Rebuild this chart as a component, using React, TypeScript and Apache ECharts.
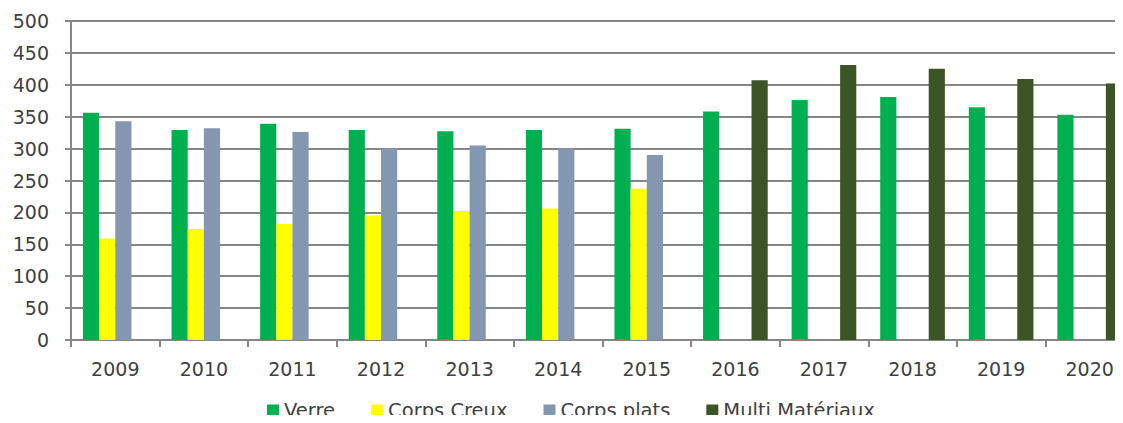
import React, { useEffect, useRef } from "react";
import * as echarts from "echarts";

const years = ["2009", "2010", "2011", "2012", "2013", "2014", "2015", "2016", "2017", "2018", "2019", "2020"];
const verre = [356, 329, 339, 329, 327, 329, 331, 358, 376, 381, 365, 353];
const corpsCreux = [159, 174, 182, 195, 202, 206, 237, null, null, null, null, null];
const corpsPlats = [343, 332, 326, 300, 305, 300, 290, null, null, null, null, null];
const multiMateriaux = [null, null, null, null, null, null, null, 407, 431, 425, 409, 402];
const yTicks = { min: 0, max: 500, interval: 50 };

export default function App() {
  const ref = useRef<HTMLDivElement>(null);
  useEffect(() => {
    if (!ref.current) return;
    const chart = echarts.init(ref.current, null, { renderer: "svg" });
    const font = "DejaVu Sans";
    const mk = (name: string, data: (number | null)[], color: string) => ({
      name,
      type: "bar",
      data,
      barGap: "0%",
      barCategoryGap: "27%",
      itemStyle: { color },
    });
    chart.setOption({
      animation: false,
      textStyle: { fontFamily: font },
      grid: {
        left: 71,
        width: 1063,
        top: 21,
        bottom: 83,
        containLabel: false,
        outerBoundsMode: "none",
      },
      legend: {
        bottom: -2,
        left: 262,
        itemWidth: 12,
        itemHeight: 11,
        itemGap: 36,
        icon: "rect",
        textStyle: { fontFamily: font, fontSize: 19.5, color: "#404040" },
        data: ["Verre", "Corps Creux", "Corps plats", "Multi Matériaux"],
      },
      xAxis: {
        type: "category",
        data: years,
        axisLine: { lineStyle: { color: "#868686", width: 2 } },
        axisTick: { show: true, length: 7, lineStyle: { color: "#868686", width: 2 } },
        axisLabel: { fontFamily: font, fontSize: 19, color: "#404040", margin: 19 },
      },
      yAxis: {
        type: "value",
        min: yTicks.min,
        max: yTicks.max,
        interval: yTicks.interval,
        axisLine: { show: true, lineStyle: { color: "#868686", width: 2 } },
        axisTick: { show: true, length: 6, lineStyle: { color: "#868686", width: 2 } },
        splitLine: { lineStyle: { color: "#868686", width: 2 } },
        axisLabel: { fontFamily: font, fontSize: 19, color: "#404040", margin: 22 },
      },
      series: [
        mk("Verre", verre, "#00b050"),
        mk("Corps Creux", corpsCreux, "#ffff00"),
        mk("Corps plats", corpsPlats, "#8497b0"),
        mk("Multi Matériaux", multiMateriaux, "#3b5524"),
      ],
    });
    return () => chart.dispose();
  }, []);
  return <div ref={ref} style={{ width: 1123, height: 423, margin: -8 }} />;
}
